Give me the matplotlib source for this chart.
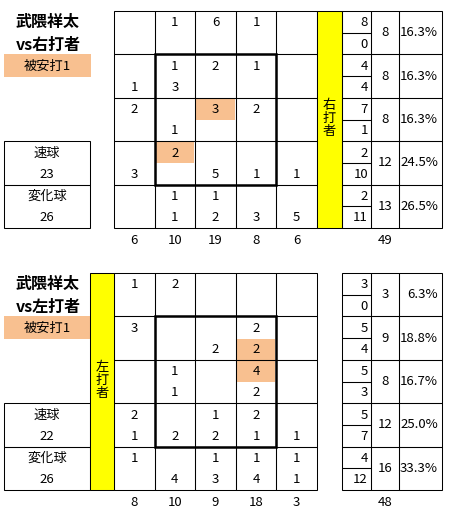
import matplotlib
matplotlib.use("Agg")
import matplotlib.pyplot as plt
from matplotlib.patches import Rectangle

plt.rcParams['font.family'] = ['Noto Sans CJK JP', 'DejaVu Sans']

# ---- data: vs right-handed batters ----
r_title = ["武隈祥太", "vs右打者"]
r_hits_label = "被安打1"
r_hi = [[0, 1, 6, 1, 0],
        [0, 1, 2, 1, 0],
        [2, 0, 3, 2, 0],
        [0, 2, 0, 0, 0],
        [0, 1, 1, 0, 0]]
r_lo = [[0, 0, 0, 0, 0],
        [1, 3, 0, 0, 0],
        [0, 1, 0, 0, 0],
        [3, 0, 5, 1, 1],
        [0, 1, 2, 3, 5]]
r_col_tot = [6, 10, 19, 8, 6]
r_side_hi = [8, 4, 7, 2, 2]
r_side_lo = [0, 4, 1, 10, 11]
r_row_tot = [8, 8, 8, 12, 13]
r_pct = ["16.3%", "16.3%", "16.3%", "24.5%", "26.5%"]
r_total = 49
r_fast = 23
r_break = 26
r_hit_cells = [(2, 2, 0), (3, 1, 0)]   # row, col, half (0 upper / 1 lower)

# ---- data: vs left-handed batters ----
l_title = ["武隈祥太", "vs左打者"]
l_hits_label = "被安打1"
l_hi = [[1, 2, 0, 0, 0],
        [3, 0, 0, 2, 0],
        [0, 1, 0, 4, 0],
        [2, 0, 1, 2, 0],
        [1, 0, 1, 1, 1]]
l_lo = [[0, 0, 0, 0, 0],
        [0, 0, 2, 2, 0],
        [0, 1, 0, 2, 0],
        [1, 2, 2, 1, 1],
        [0, 4, 3, 4, 1]]
l_col_tot = [8, 10, 9, 18, 3]
l_side_hi = [3, 5, 5, 5, 4]
l_side_lo = [0, 4, 3, 7, 12]
l_row_tot = [3, 9, 8, 12, 16]
l_pct = ["6.3%", "18.8%", "16.7%", "25.0%", "33.3%"]
l_total = 48
l_fast = 22
l_break = 26
l_hit_cells = [(1, 3, 1), (2, 3, 0)]

ORANGE = "#f8c090"
YELLOW = "#ffff00"
LW = 0.75
FS = 9.5

fig = plt.figure(figsize=(4.52, 5.13), dpi=100)
ax = fig.add_axes([0, 0, 1, 1])
ax.set_xlim(0, 452)
ax.set_ylim(513, 0)
ax.axis("off")


def box(x0, y0, x1, y1, fc="none", lw=LW, ec="black"):
    ax.add_patch(Rectangle((x0, y0), x1 - x0, y1 - y0, fc=fc, ec=ec, lw=lw))


def txt(x, y, s, ha="center", **kw):
    ax.text(x, y, s, ha=ha, va="center", fontsize=kw.pop("fs", FS), **kw)


def panel(top, title, hits_label, hi, lo, col_tot, side_hi, side_lo,
          row_tot, pct, total, fast, brk, hit_cells, right):
    rh = 43.4
    gx = [114 + 40.6 * i for i in range(6)]
    rows = [top + rh * i for i in range(6)]
    bottom = rows[-1]

    # title and hit label
    txt(48, top + 11, title[0], fs=11.5, fontweight="bold")
    txt(48, top + 34, title[1], fs=11.5, fontweight="bold")
    box(4, rows[1], 91, rows[1] + 23, fc=ORANGE, ec="none")
    txt(47, rows[1] + 11.5, hits_label)

    # pitch type box
    box(4, rows[3], 90, rows[4])
    box(4, rows[4], 90, rows[5])
    txt(47, rows[3] + 12, "速球")
    txt(47, rows[3] + 33, str(fast))
    txt(47, rows[4] + 12, "変化球")
    txt(47, rows[4] + 33, str(brk))

    # highlighted hit cells
    for r, c, half in hit_cells:
        y0 = rows[r] + half * rh / 2 + 1
        box(gx[c] + 1, y0, gx[c + 1] - 1, y0 + rh / 2 - 1, fc=ORANGE, ec="none")

    # grid
    for r in range(5):
        for c in range(5):
            box(gx[c], rows[r], gx[c + 1], rows[r + 1])
            cx = (gx[c] + gx[c + 1]) / 2
            if hi[r][c]:
                txt(cx, rows[r] + 12, str(hi[r][c]))
            if lo[r][c]:
                txt(cx, rows[r] + 33, str(lo[r][c]))
    box(gx[1], rows[1], gx[4], rows[4], lw=1.8)

    for c in range(5):
        txt((gx[c] + gx[c + 1]) / 2, bottom + 12, str(col_tot[c]))

    # batter side column
    if right:
        yx0, yx1, label = 317, 342, "右\n打\n者"
    else:
        yx0, yx1, label = 90, 114, "左\n打\n者"
    box(yx0, top, yx1, bottom, fc=YELLOW)
    ax.text((yx0 + yx1) / 2, top + rh * 2.5 - 1, label, ha="center",
            va="center", fontsize=FS, linespacing=1.05)

    # right summary table
    sx = [342, 371, 399, 442]
    for r in range(5):
        y0 = rows[r]
        box(sx[0], y0, sx[1], y0 + rh / 2)
        box(sx[0], y0 + rh / 2, sx[1], y0 + rh)
        box(sx[1], y0, sx[2], y0 + rh)
        box(sx[2], y0, sx[3], y0 + rh)
        txt(sx[1] - 3, y0 + 12, str(side_hi[r]), ha="right")
        txt(sx[1] - 3, y0 + 33, str(side_lo[r]), ha="right")
        txt((sx[1] + sx[2]) / 2, y0 + rh / 2, str(row_tot[r]))
        txt(sx[3] - 4, y0 + rh / 2, pct[r], ha="right")
    txt((sx[1] + sx[2]) / 2, bottom + 12, str(total))


panel(11, r_title, r_hits_label, r_hi, r_lo, r_col_tot, r_side_hi, r_side_lo,
      r_row_tot, r_pct, r_total, r_fast, r_break, r_hit_cells, True)
panel(273, l_title, l_hits_label, l_hi, l_lo, l_col_tot, l_side_hi, l_side_lo,
      l_row_tot, l_pct, l_total, l_fast, l_break, l_hit_cells, False)

fig.savefig("out.png", dpi=100)
